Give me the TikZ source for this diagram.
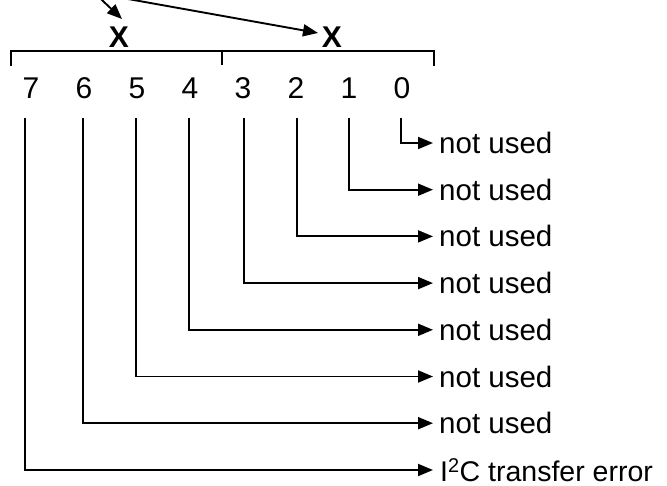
\documentclass[tikz,border=0pt]{standalone}
\usepackage{fontspec}
\setmainfont{Liberation Sans}
\usetikzlibrary{arrows.meta}
\begin{document}
\begin{tikzpicture}[x=1pt,y=-1pt,
  wire/.style={line width=1.9pt},
  arr/.style={wire,-{Triangle[length=15pt,width=12pt]}},
  digit/.style={inner sep=0pt,font=\fontsize{30}{36}\selectfont},
  xmark/.style={inner sep=0pt,font=\fontsize{30}{36}\selectfont\bfseries},
  lbl/.style={anchor=west,inner xsep=6pt,inner ysep=0pt,font=\fontsize{29.5}{35}\selectfont}]
\useasboundingbox (0,0) rectangle (667,486);
\clip (0,0) rectangle (667,486);
% bracket
\draw[wire] (11,66) -- (11,51) -- (434,51) -- (434,66);
\draw[wire] (222,51) -- (222,65);
% X marks
\node[xmark] (x1) at (119,37) {X};
\node[xmark] (x2) at (332,37) {X};
\coordinate (src) at (94.5,-7);
\coordinate (t1) at (122,19);
\coordinate (t2) at (318,33);
\draw[arr] (src) -- (t1);
\draw[arr] (src) -- (t2);
% digits
\foreach \i/\x in {7/31,6/84,5/137,4/190,3/243,2/296,1/349,0/402}{
  \node[digit] (b\i) at (\x,88.5) {\i};
}
% labels and connectors
\foreach \i/\x in {0/401,1/349,2/297,3/244,4/189,5/136,6/83}{
  \pgfmathsetmacro{\yy}{143+46.7*\i}
  \node[lbl] (l\i) at (433,\yy) {not used};
  \coordinate (v\i) at (\x,118);
  \draw[arr] (v\i) |- (l\i.west);
}
\node[lbl,font=\fontsize{28.5}{34}\selectfont,inner xsep=0pt,xshift=7pt] (l7) at (433,470) {I\textsuperscript{2}C transfer error};
\coordinate (v7) at (25,118);
\draw[arr] (v7) |- ([xshift=-7pt]l7.west);
\end{tikzpicture}
\end{document}
